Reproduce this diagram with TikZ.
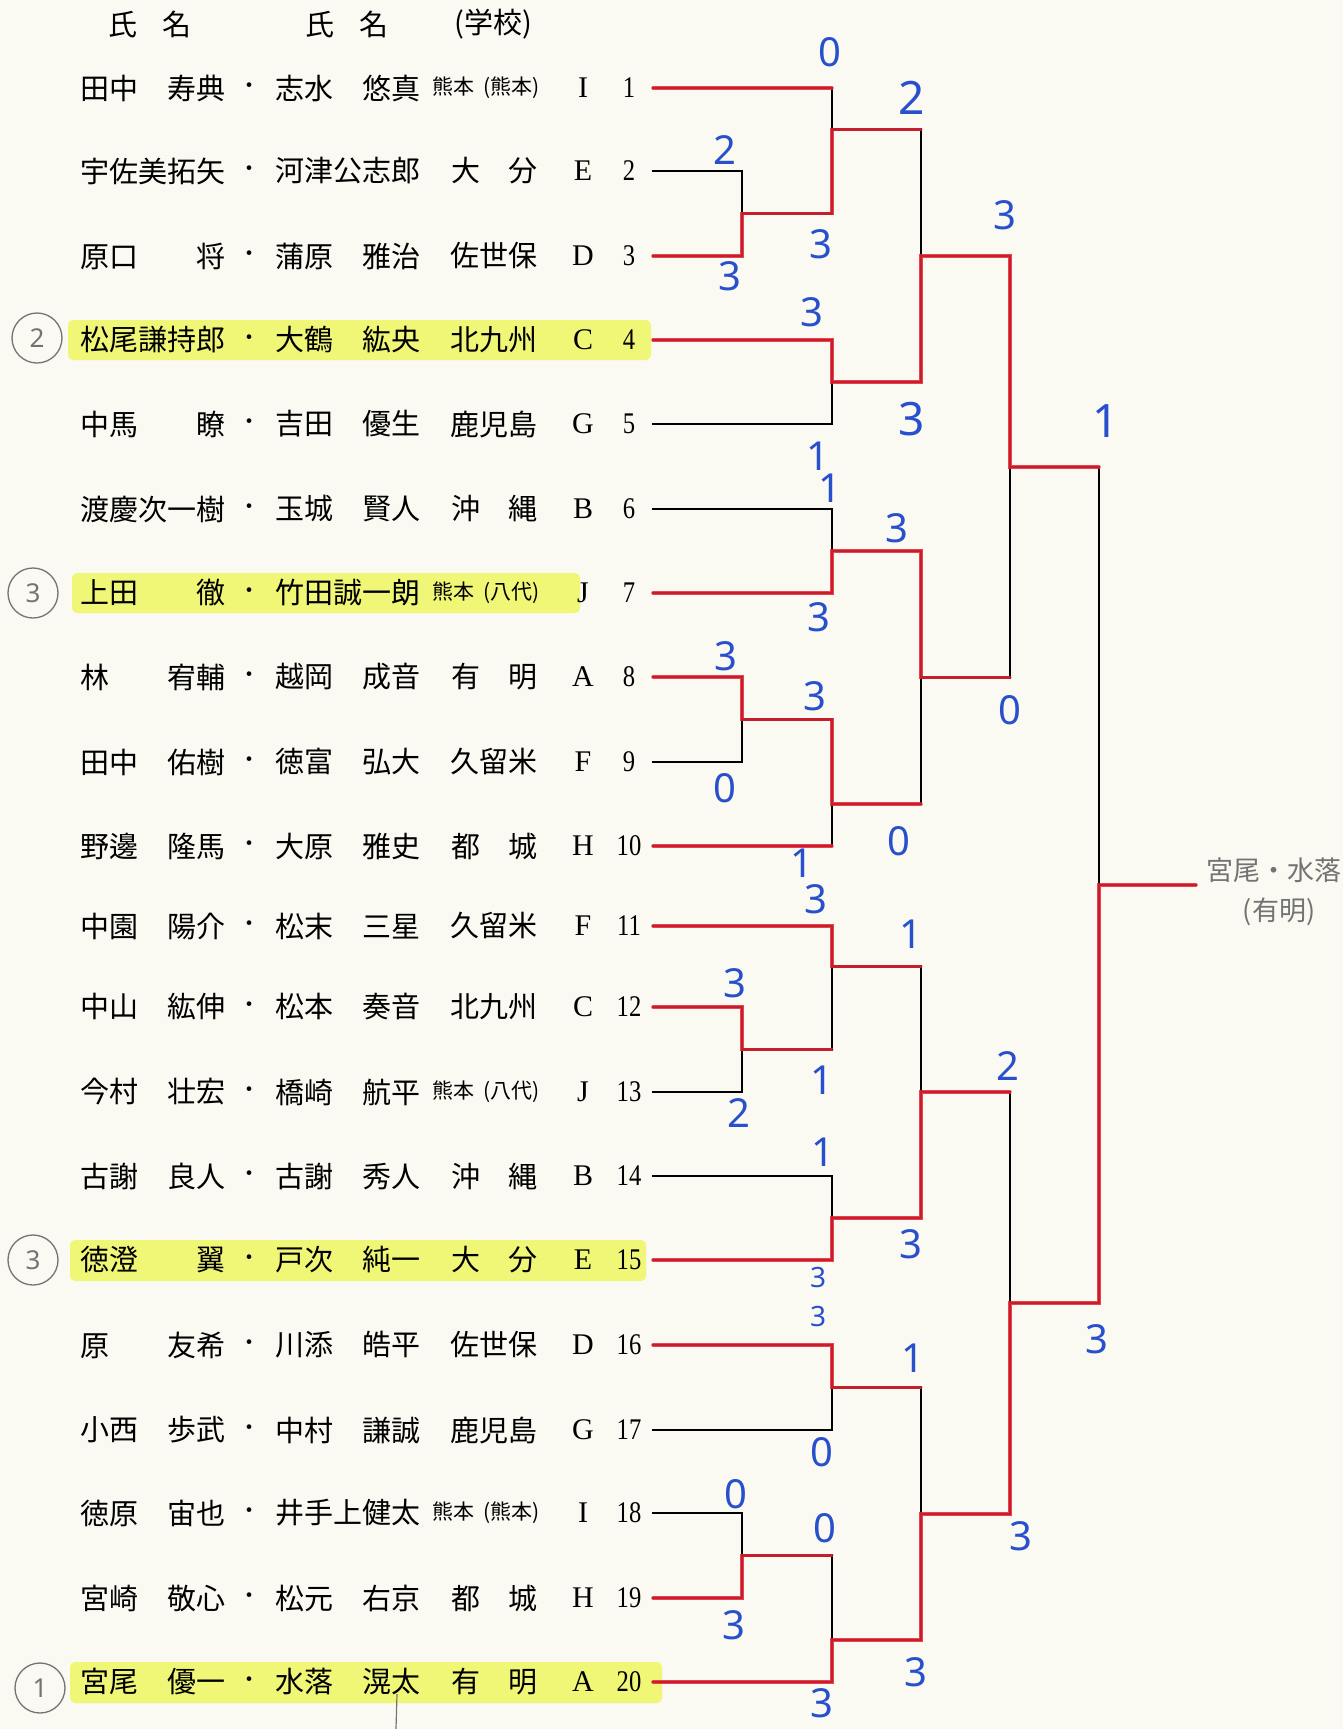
\documentclass[tikz,border=0pt]{standalone}
\usepackage{fontspec}
\usepackage{graphicx}
\setmainfont{Liberation Serif}
\newfontfamily\jpfont{Noto Sans CJK JP}
\newfontfamily\penfont{Noto Sans}
\definecolor{paper}{RGB}{250,249,242}
\definecolor{marker}{RGB}{232,36,52}
\definecolor{bluepen}{RGB}{40,80,205}
\definecolor{pencil}{RGB}{115,115,115}
\definecolor{hilite}{RGB}{240,246,118}
\newcommand{\namefield}[2]{\makebox[145pt]{#1\hfill#2}}
\newcommand{\kuma}[1]{\hspace*{-16pt}\fontsize{21}{21}\selectfont 熊本\hspace{9pt}(#1)}
\newcommand{\narrow}[1]{\scalebox{.82}[1]{#1}}

\begin{document}
\begin{tikzpicture}[x=1pt,y=-1pt,
  bracket/.style={line width=2.2pt,line cap=rect},
  win/.style={marker,line width=3.4pt,opacity=.85,line cap=round,xshift=-1pt,yshift=1.2pt},
  entry/.style={inner sep=0pt,font=\jpfont\fontsize{29}{29}\selectfont},
  middot/.style={inner sep=0pt,font=\jpfont\fontsize{22}{22}\selectfont},
  code/.style={inner sep=0pt,font=\fontsize{30}{30}\selectfont},
  score/.style={inner sep=0pt,text=bluepen,font=\penfont\fontsize{40}{40}\selectfont},
  scoresmall/.style={font=\penfont\fontsize{28}{28}\selectfont},
  scorebig/.style={font=\penfont\fontsize{46}{46}\selectfont},
  scorenorm/.style={},
  rank/.style={circle,draw=pencil,line width=1.3pt,minimum size=50pt,inner sep=0pt,text=pencil,font=\penfont\fontsize{26}{26}\selectfont},
  note/.style={inner sep=0pt,text=pencil,font=\jpfont\fontsize{27}{27}\selectfont}]

 \fill[paper] (0,0) rectangle (1343,1729);
 \useasboundingbox (0,0) rectangle (1343,1729);

 %highlighter
 \fill[hilite,rounded corners=5pt] (68,320) rectangle (651,360);
 \fill[hilite,rounded corners=5pt] (72,573) rectangle (580,613);
 \fill[hilite,rounded corners=5pt] (70,1240) rectangle (646,1281);
 \fill[hilite,rounded corners=5pt] (70,1662) rectangle (662,1703);

 %header
 \node[entry] (head1) at (150,24) {氏\hspace{26pt}名};
 \node[entry] (head2) at (347,24) {氏\hspace{26pt}名};
 \node[entry] (head3) at (493,24) {(学校)};

 %entries
 \foreach \n/\y/\fone/\gone/\ftwo/\gtwo/\school/\grp in {
  1/88/田中/寿典/志水/悠真/{\kuma{熊本}}/I,
  2/171/宇佐美/拓矢/河津/公志郎/{大\hfill 分}/E,
  3/256/原口/将/蒲原/雅治/{佐世保}/D,
  4/340/松尾/謙持郎/大鶴/紘央/{北九州}/C,
  5/424/中馬/瞭/吉田/優生/{鹿児島}/G,
  6/509/渡慶次/一樹/玉城/賢人/{沖\hfill 縄}/B,
  7/593/上田/徹/竹田/誠一朗/{\kuma{八代}}/J,
  8/677/林/宥輔/越岡/成音/{有\hfill 明}/A,
  9/762/田中/佑樹/徳富/弘大/{久留米}/F,
  10/846/野邊/隆馬/大原/雅史/{都\hfill 城}/H,
  11/926/中園/陽介/松末/三星/{久留米}/F,
  12/1007/中山/紘伸/松本/奏音/{北九州}/C,
  13/1092/今村/壮宏/橋崎/航平/{\kuma{八代}}/J,
  14/1176/古謝/良人/古謝/秀人/{沖\hfill 縄}/B,
  15/1260/徳澄/翼/戸次/純一/{大\hfill 分}/E,
  16/1345/原/友希/川添/皓平/{佐世保}/D,
  17/1430/小西/歩武/中村/謙誠/{鹿児島}/G,
  18/1513/徳原/宙也/井手上/健太/{\kuma{熊本}}/I,
  19/1598/宮崎/敬心/松元/右京/{都\hfill 城}/H,
  20/1682/宮尾/優一/水落/滉太/{有\hfill 明}/A}{
  \node[entry,anchor=west] (first\n) at (80,\y) {\namefield{\fone}{\gone}};
  \node[middot] (dot\n) at (249,\y) {・};
  \node[entry,anchor=west] (second\n) at (275,\y) {\namefield{\ftwo}{\gtwo}};
  \node[entry,anchor=west] (school\n) at (451,\y) {\makebox[86pt]{\school}};
  \node[code] (grp\n) at (583,\y) {\grp};
  \node[code] (num\n) at (629,\y) {\narrow{\n}};
  \coordinate (e\n) at (653,\y);
 }

 %match points
 \coordinate (p23) at (742,213.5);
 \coordinate (p89) at (742,719.5);
 \coordinate (p1213) at (742,1049.5);
 \coordinate (p1819) at (742,1555.5);
 \coordinate (a1) at (832,129.5);
 \coordinate (a2) at (832,382);
 \coordinate (a3) at (832,551);
 \coordinate (a4) at (832,804);
 \coordinate (a5) at (832,966.5);
 \coordinate (a6) at (832,1218);
 \coordinate (a7) at (832,1387.5);
 \coordinate (a8) at (832,1640);
 \coordinate (b1) at (921,256);
 \coordinate (b2) at (921,677.5);
 \coordinate (b3) at (921,1092);
 \coordinate (b4) at (921,1514);
 \coordinate (c1) at (1010,467);
 \coordinate (c2) at (1010,1303);
 \coordinate (d) at (1099,885);
 \coordinate (champ) at (1196,885);

 \foreach \ua/\mm/\da in {e2/p23/e3, e8/p89/e9, e12/p1213/e13, e18/p1819/e19,
   e1/a1/p23, e4/a2/e5, e6/a3/e7, p89/a4/e10, e11/a5/p1213, e14/a6/e15, e16/a7/e17, p1819/a8/e20,
   a1/b1/a2, a3/b2/a4, a5/b3/a6, a7/b4/a8, b1/c1/b2, b3/c2/b4, c1/d/c2}
  \draw[bracket] (\ua) -| (\mm) |- (\da);
 \draw[bracket] (d) -- (champ);

 %red marker
 \draw[win] (e1) -- (e1 -| a1);
 \draw[win] (e3) -| (p23) -| (a1) -- (a1 -| b1);
 \draw[win] (e4) -| (a2) -| (b1) -| (c1) -- (c1 -| d);
 \draw[win] (e7) -| (a3) -| (b2) -- (b2 -| c1);
 \draw[win] (e8) -| (p89) -| (a4) -- (a4 -| b2);
 \draw[win] (e10) -- (e10 -| a4);
 \draw[win] (e11) -| (a5) -- (a5 -| b3);
 \draw[win] (e12) -| (p1213) -- (p1213 -| a5);
 \draw[win] (e15) -| (a6) -| (b3) -- (b3 -| c2);
 \draw[win] (e16) -| (a7) -- (a7 -| b4);
 \draw[win] (e19) -| (p1819) -- (p1819 -| a8);
 \draw[win] (e20) -| (a8) -| (b4) -| (c2) -| (d) -- (champ);

 %scores
 \foreach \sx/\sy/\val/\sz [count=\cnt] in {
  725/150/2/scorenorm, 730/276/3/scorenorm, 726/656/3/scorenorm, 725/788/0/scorenorm,
  735/983/3/scorenorm, 739/1113/2/scorenorm, 736/1494/0/scorenorm, 734/1625/3/scorenorm,
  830/52/0/scorenorm, 821/244/3/scorenorm, 812/312/3/scorenorm, 818/456/1/scorenorm,
  830/488/1/scorenorm, 819/617/3/scorenorm, 815/696/3/scorenorm, 802/863/1/scorenorm,
  816/899/3/scorenorm, 822/1080/1/scorenorm, 823/1152/1/scorenorm, 818/1277/3/scoresmall,
  818/1316/3/scoresmall, 822/1452/0/scorenorm, 825/1528/0/scorenorm, 822/1703/3/scorenorm,
  912/98/2/scorebig, 912/419/3/scorebig, 897/528/3/scorenorm, 899/841/0/scorenorm,
  911/934/1/scorenorm, 911/1244/3/scorenorm, 913/1358/1/scorenorm, 916/1672/3/scorenorm,
  1005/215/3/scorenorm, 1010/710/0/scorenorm, 1008/1066/2/scorenorm, 1021/1536/3/scorenorm,
  1106/421/1/scorebig, 1097/1339/3/scorenorm}
  \node[score,\sz] (score\cnt) at (\sx,\sy) {\val};

 %pencil
 \node[rank] (rank4) at (37,338) {2};
 \node[rank] (rank7) at (33,593) {3};
 \node[rank] (rank15) at (33,1260) {3};
 \node[rank] (rank20) at (40,1688) {1};
 \node[note,anchor=west] (champname) at (1206,870) {宮尾・水落};
 \node[note] (champschool) at (1279,912) {(有明)};
 \draw[pencil,line width=1.2pt] (397,1694) -- (396,1729);
\end{tikzpicture}
\end{document}
